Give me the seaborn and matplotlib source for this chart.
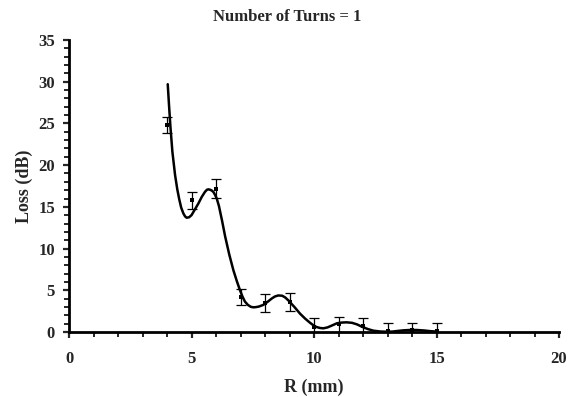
import matplotlib
matplotlib.use("Agg")
import matplotlib.pyplot as plt
import seaborn as sns
import pandas as pd
from matplotlib.ticker import MultipleLocator

# measured points
r_mm = [4, 5, 6, 7, 8, 9, 10, 11, 12, 13, 14, 15]
loss_db = [24.8, 15.8, 17.2, 4.2, 3.5, 3.6, 0.6, 0.9, 0.7, 0.1, 0.2, 0.1]
loss_err = [1.0, 1.0, 1.1, 0.95, 1.1, 1.05, 1.1, 0.95, 1.0, 1.0, 0.9, 0.95]

# smoothed curve
curve_r = [4.03, 4.08, 4.14, 4.22, 4.33, 4.42, 4.5, 4.58, 4.67, 4.74, 4.8, 4.9,
           5.0, 5.14, 5.28, 5.42, 5.55, 5.63, 5.69, 5.76, 5.83, 5.89, 5.96, 6.03,
           6.12, 6.25, 6.37, 6.54, 6.71, 6.85, 6.98, 7.08, 7.18, 7.3, 7.42, 7.52,
           7.62, 7.75, 7.93, 8.1, 8.27, 8.4, 8.54, 8.7, 8.82, 8.95, 9.2, 9.43,
           9.64, 9.84, 10.0, 10.1, 10.25, 10.38, 10.55, 10.75, 10.93, 11.13,
           11.33, 11.55, 11.75, 11.95, 12.2, 12.42, 12.7, 12.97, 13.2, 13.4,
           13.65, 13.9, 14.2, 14.5, 14.75, 15.0]
curve_loss = [29.7, 27.3, 24.6, 21.6, 18.8, 17.1, 15.9, 14.9, 14.2, 13.85, 13.7,
              13.75, 14.0, 14.7, 15.4, 16.2, 16.8, 17.05, 17.1, 17.05, 16.95,
              16.8, 16.45, 16.0, 15.1, 13.3, 11.5, 9.3, 7.4, 6.1, 5.0, 4.25, 3.65,
              3.25, 3.02, 2.96, 2.98, 3.05, 3.25, 3.6, 4.0, 4.25, 4.38, 4.35, 4.15,
              3.8, 3.0, 2.2, 1.6, 1.1, 0.75, 0.6, 0.48, 0.44, 0.55, 0.8, 1.04, 1.13,
              1.16, 1.1, 0.92, 0.64, 0.35, 0.16, 0.06, 0.03, 0.05, 0.12, 0.2, 0.24,
              0.24, 0.18, 0.1, 0.05]

sns.set_style("ticks")
plt.rcParams['font.family'] = ['Liberation Serif', 'DejaVu Serif']
plt.rcParams['font.weight'] = 'bold'

fig = plt.figure(figsize=(5.7, 3.97), dpi=100)
ax = fig.add_axes([69/570, 1 - 332/397, (559-69)/570, (332-40)/397])

pts = pd.DataFrame({"R": r_mm, "Loss": loss_db})
crv = pd.DataFrame({"R": curve_r, "Loss": curve_loss})

sns.lineplot(data=crv, x="R", y="Loss", ax=ax, color="black", lw=1.8, sort=False)
ax.errorbar(r_mm, loss_db, yerr=loss_err, fmt="none", ecolor="black",
            elinewidth=0.9, capsize=3.5, capthick=0.9, zorder=3)
sns.scatterplot(data=pts, x="R", y="Loss", ax=ax, color="black", marker="s",
                s=9, edgecolor="black", linewidth=0, zorder=4)

ax.set_xlim(0, 20)
ax.set_ylim(0, 35)
ax.xaxis.set_major_locator(MultipleLocator(5))
ax.xaxis.set_minor_locator(MultipleLocator(1))
ax.yaxis.set_major_locator(MultipleLocator(5))
ax.yaxis.set_minor_locator(MultipleLocator(1))
ax.tick_params(axis="both", which="major", length=4, width=1.6, labelsize=12, direction="out")
ax.tick_params(axis="x", which="major", pad=10)
ax.tick_params(axis="y", which="major", pad=6)
ax.tick_params(axis="both", which="minor", length=3.5, width=1.4, direction="out")
for lab in ax.get_xticklabels() + ax.get_yticklabels():
    lab.set_fontweight("bold")

for s in ["top", "right"]:
    ax.spines[s].set_visible(False)
for s in ["left", "bottom"]:
    ax.spines[s].set_linewidth(2)
    ax.spines[s].set_color("black")

ax.set_xlabel("R (mm)", fontsize=13, fontweight="bold", labelpad=8)
ax.set_ylabel("Loss (dB)", fontsize=13, fontweight="bold", labelpad=4)
fig.text(0.503, 0.958, "Number of Turns = 1", ha="center", va="center",
         fontsize=12, fontweight="bold")

fig.savefig("out.png", dpi=100)
